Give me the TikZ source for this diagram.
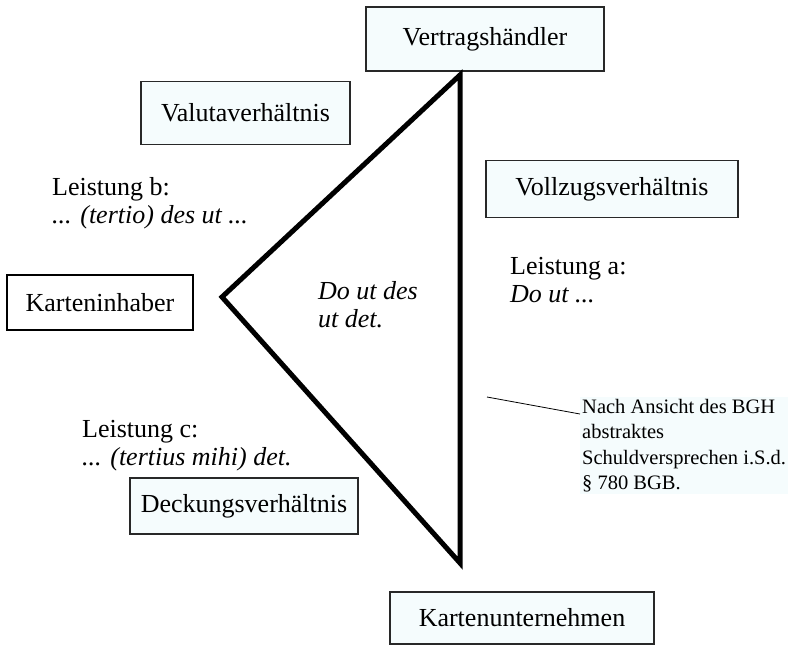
\documentclass[tikz,border=0pt]{standalone}
\usepackage{fontspec}
\setmainfont{Liberation Serif}
\definecolor{boxfill}{RGB}{245,252,253}
\definecolor{boxline}{RGB}{40,40,40}
\tikzset{
  partei/.style={draw=boxline, line width=1.8pt, fill=boxfill, inner sep=0pt,
    font=\fontsize{26}{29}\selectfont},
  leistung/.style={align=left, anchor=west, inner sep=0pt,
    font=\fontsize{26}{28}\selectfont},
  notiz/.style={align=left, anchor=north west, fill=boxfill, inner sep=2pt,
    font=\fontsize{20.5}{25.5}\selectfont},
  dreieck/.style={line width=5pt}
}
\begin{document}
\begin{tikzpicture}[x=1pt,y=-1pt]
      \useasboundingbox (0,0) rectangle (795,646);
      % die vier Parteien und die drei Verhaeltnisse
      \node[partei, minimum width=238, minimum height=64] (haendler) at (485,39) {Vertragshändler};
      \node[partei, minimum width=209, minimum height=63] (valuta) at (245.5,113) {Valutaverhältnis};
      \node[partei, minimum width=252, minimum height=57] (vollzug) at (612,189) {Vollzugsverhältnis};
      \node[partei, fill=white, draw=black, minimum width=186, minimum height=55] (inhaber) at (100,302.5) {Karteninhaber};
      \node[partei, minimum width=228, minimum height=56] (deckung) at (244,506) {Deckungsverhältnis};
      \node[partei, minimum width=264, minimum height=52] (unternehmen) at (522,618) {Kartenunternehmen};
      % Leistungen
      \node[leistung] (lb) at (52,203) {Leistung b:\\\textit{... (tertio) des ut ...}};
      \node[leistung] (la) at (510,280) {Leistung a:\\\textit{Do ut ...}};
      \node[leistung] (lc) at (82,446) {Leistung c:\\\textit{... (tertius mihi) det.}};
      \node[leistung] (mitte) at (318,305) {\textit{Do ut des}\\\textit{ut det.}};
      % Dreieck
      \coordinate (oben) at (460,75);
      \coordinate (links) at (222,297);
      \coordinate (unten) at (460,563);
      \draw[dreieck] (oben) -- (links) -- (unten) -- cycle;
      % Anmerkung
      \node[notiz] (bgh) at (580,397) {Nach Ansicht des BGH\\abstraktes\\Schuldversprechen i.S.d.\\\S~780 BGB.};
      \coordinate (zeiger) at (487,397);
      \draw[line width=0.8pt] (zeiger) -- ([yshift=-17pt]bgh.north west);
    \end{tikzpicture}
\end{document}
